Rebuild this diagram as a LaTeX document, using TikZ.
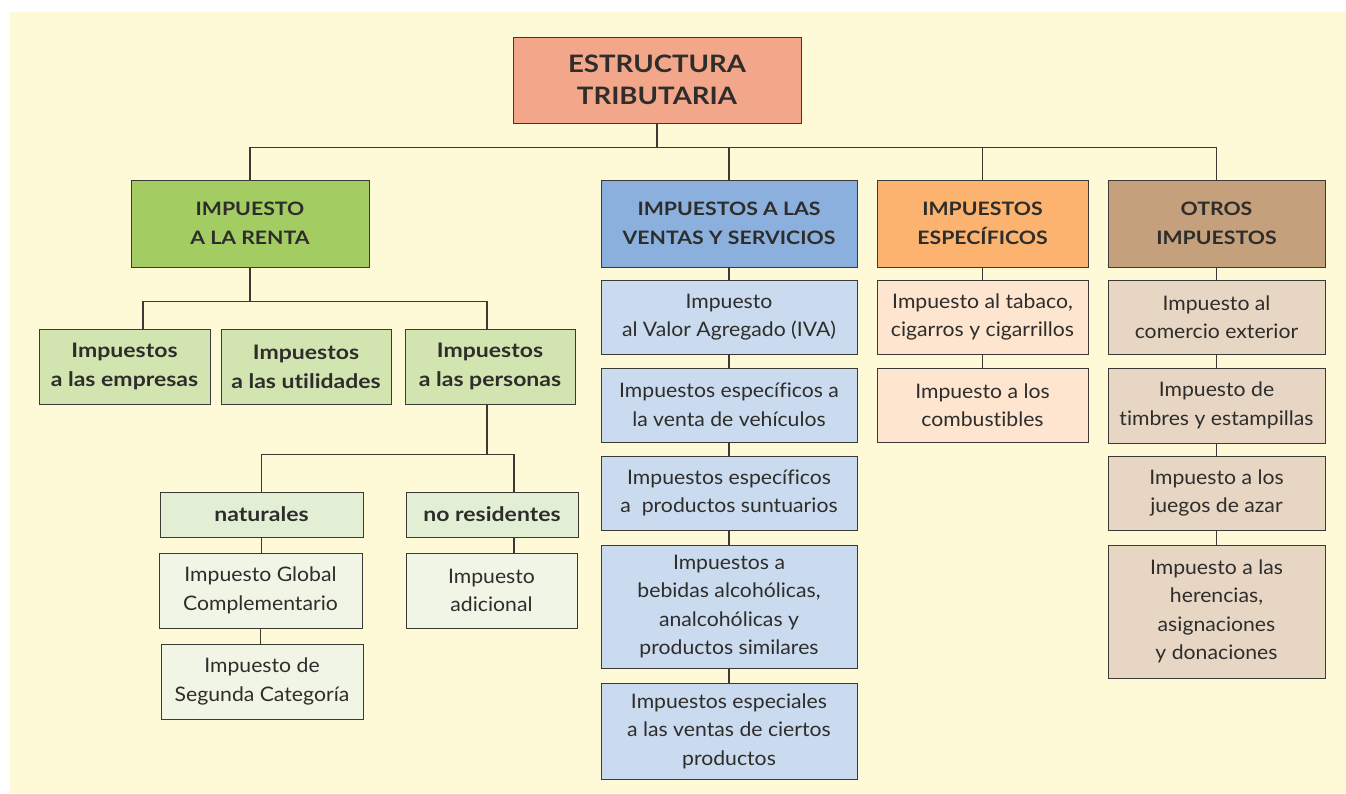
\documentclass[tikz,border=0pt]{standalone}
\usepackage{fontspec}
\setmainfont{Lato}[Ligatures=CommonOff,FakeStretch=1.06,BoldFeatures={FakeStretch=1.15}]
\usepackage{tikz}
\usetikzlibrary{positioning}

\definecolor{paper}{HTML}{FEF9D6}
\definecolor{linec}{HTML}{3C3A36}
\definecolor{txt}{HTML}{2E2D2B}
\definecolor{rootc}{HTML}{F2A68A}
\definecolor{rentac}{HTML}{A3CD63}
\definecolor{rentalt}{HTML}{D2E5B0}
\definecolor{rentapale}{HTML}{E3EFD4}
\definecolor{rentawhite}{HTML}{F0F5E5}
\definecolor{ventac}{HTML}{8BB0DE}
\definecolor{ventalt}{HTML}{CBDBEF}
\definecolor{especc}{HTML}{FBB36F}
\definecolor{especlt}{HTML}{FDE5CF}
\definecolor{otrosc}{HTML}{C4A07D}
\definecolor{otroslt}{HTML}{E7D6C4}

\begin{document}
\begin{tikzpicture}[
            x=1pt, y=-1pt,
            box/.style={draw=linec,line width=0.9pt,inner sep=0pt,align=center,text=txt},
            dims/.style 2 args={minimum width=#1,minimum height=#2},
            top node/.style={box,fill=rootc,font=\fontsize{24}{32}\selectfont\bfseries},
            head node/.style={box,font=\fontsize{18.5}{29}\selectfont\bfseries},
            sub node/.style={box,font=\fontsize{20}{29}\selectfont\bfseries},
            leaf node/.style={box,font=\fontsize{20}{28.5}\selectfont},
            link/.style={draw=linec,line width=1.1pt},
        ]
            \useasboundingbox (0,0) rectangle (1346,793);
            \fill[paper] (10,12) rectangle (1346,793);

            % raiz y primer nivel
            \node[top node,dims={288pt}{86pt}] (root) at (657,80) {ESTRUCTURA\\TRIBUTARIA};
            \node[head node,fill=rentac,dims={238pt}{87pt}] (renta) at (250,223.5) {IMPUESTO\\A LA RENTA};
            \node[head node,fill=ventac,dims={256pt}{87pt}] (ventas) at (729,223.5) {IMPUESTOS A LAS\\VENTAS Y SERVICIOS};
            \node[head node,fill=especc,dims={211pt}{87pt}] (espec) at (982.5,223.5) {IMPUESTOS\\ESPECÍFICOS};
            \node[head node,fill=otrosc,dims={217pt}{87pt}] (otros) at (1216.5,223.5) {OTROS\\IMPUESTOS};

            % impuesto a la renta
            \node[sub node,fill=rentalt,dims={171pt}{75pt}] (emp) at (124.5,366.5) {Impuestos\\a las empresas};
            \node[sub node,fill=rentalt,dims={170pt}{75pt}] (util) at (306,366.5) {Impuestos\\a las utilidades};
            \node[sub node,fill=rentalt,dims={170pt}{75pt}] (pers) at (490,366.5) {Impuestos\\a las personas};
            \node[sub node,fill=rentapale,dims={203pt}{45pt}] (nat) at (261.5,514.5) {naturales};
            \node[sub node,fill=rentapale,dims={172pt}{45pt}] (nores) at (492,514.5) {no residentes};
            \node[leaf node,fill=rentawhite,dims={203pt}{75pt}] (glob) at (260.5,590.5) {Impuesto Global\\Complementario};
            \node[leaf node,fill=rentawhite,dims={171pt}{75pt}] (adic) at (491.5,590.5) {Impuesto\\adicional};
            \node[leaf node,fill=rentawhite,dims={202pt}{75pt}] (seg) at (262,681.5) {Impuesto de\\Segunda Categoría};

            % ventas y servicios
            \node[leaf node,fill=ventalt,dims={256pt}{74pt}] (iva) at (729,317) {Impuesto\\al Valor Agregado (IVA)};
            \node[leaf node,fill=ventalt,dims={256pt}{74pt}] (veh) at (729,405) {Impuestos específicos a\\la venta de vehículos};
            \node[leaf node,fill=ventalt,dims={256pt}{74pt}] (sunt) at (729,493) {Impuestos específicos\\a~ productos suntuarios};
            \node[leaf node,fill=ventalt,dims={256pt}{123pt}] (beb) at (729,606.5) {Impuestos a\\bebidas alcohólicas,\\analcohólicas y\\productos similares};
            \node[leaf node,fill=ventalt,dims={256pt}{96pt}] (espe) at (729,731) {Impuestos especiales\\a las ventas de ciertos\\productos};

            % especificos
            \node[leaf node,fill=especlt,dims={211pt}{74pt}] (tab) at (982.5,317) {Impuesto al tabaco,\\cigarros y cigarrillos};
            \node[leaf node,fill=especlt,dims={211pt}{74pt}] (comb) at (982.5,405) {Impuesto a los\\combustibles};

            % otros
            \node[leaf node,fill=otroslt,dims={217pt}{74pt}] (com) at (1216.5,317) {Impuesto al\\comercio exterior};
            \node[leaf node,fill=otroslt,dims={217pt}{75pt}] (tim) at (1216.5,405.5) {Impuesto de\\timbres y estampillas};
            \node[leaf node,fill=otroslt,dims={217pt}{74pt}] (jue) at (1216.5,493) {Impuesto a los\\juegos de azar};
            \node[leaf node,fill=otroslt,dims={217pt}{133pt}] (her) at (1216.5,611.5) {Impuesto a las\\herencias,\\asignaciones\\y donaciones};

            % conectores
            \foreach \n in {renta,ventas,espec,otros}
                \draw[link] (root.south) -- ++(0,24) -| (\n.north);
            \draw[link] (renta.south) -- ++(0,34) -| ([xshift=18.5pt]emp.north);
            \draw[link] (renta.south) -- ++(0,34) -| ([xshift=-3pt]pers.north);
            \draw[link] ([xshift=-3pt]pers.south) -- ++(0,50) -| (nat.north);
            \draw[link] ([xshift=-3pt]pers.south) -- ++(0,50) -| ([xshift=22pt]nores.north);
            \draw[link] (nat.south) -- (nat.south |- glob.north);
            \draw[link] (glob.south) -- (glob.south |- seg.north);
            \draw[link] ([xshift=22pt]nores.south) -- ([xshift=22pt]nores.south |- adic.north);
            \foreach \a/\b in {ventas/iva,iva/veh,veh/sunt,sunt/beb,beb/espe,
                               espec/tab,tab/comb,
                               otros/com,com/tim,tim/jue,jue/her}
                \draw[link] (\a.south) -- (\b.north);
        \end{tikzpicture}
\end{document}
